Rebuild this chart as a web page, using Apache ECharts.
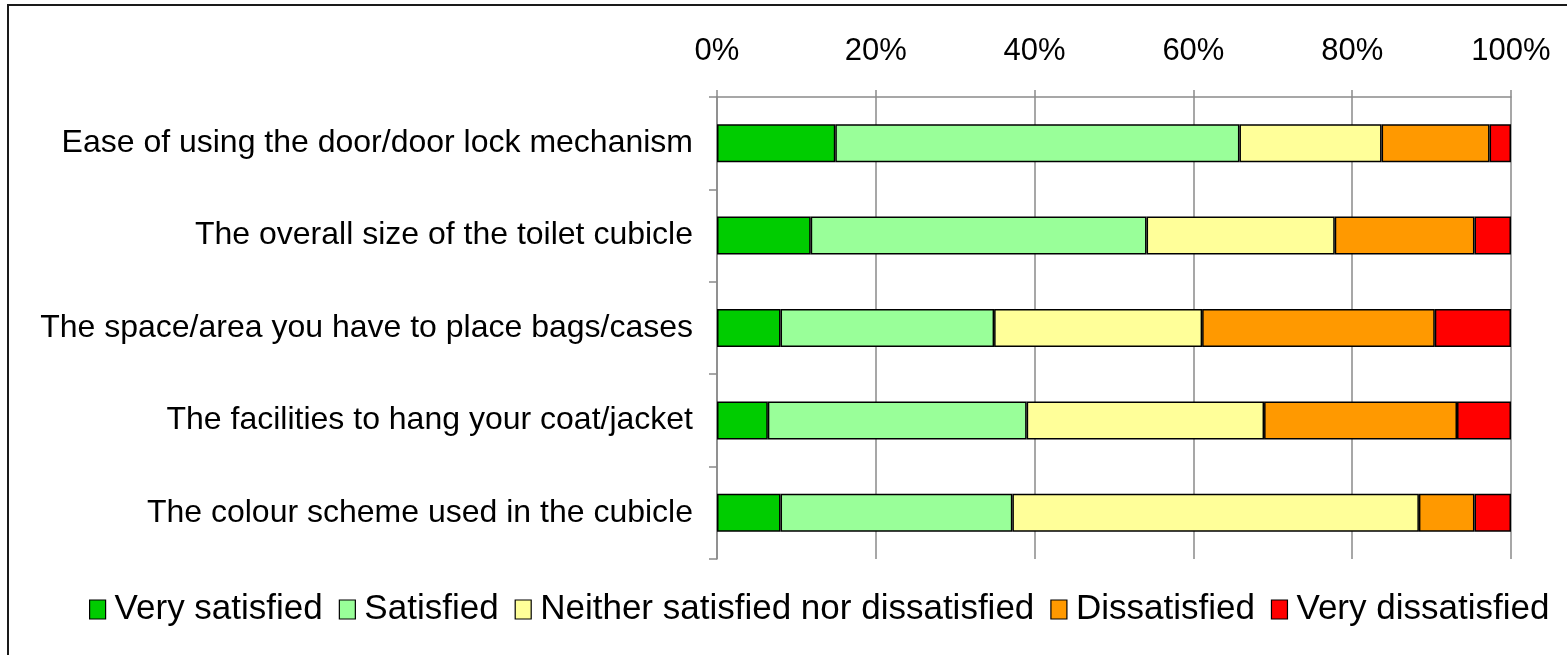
<!DOCTYPE html>
<html>
<head>
<meta charset="utf-8">
<script src="https://cdn.jsdelivr.net/npm/echarts@6/dist/echarts.min.js"></script>
<style>
  html, body { margin: 0; padding: 0; background: #ffffff; }
  #chart { width: 1567px; height: 655px; }
</style>
</head>
<body>
<div id="chart"></div>
<script>
// Survey items, listed top to bottom
const categories = [
  'Ease of using the door/door lock mechanism',
  'The overall size of the toilet cubicle',
  'The space/area you have to place bags/cases',
  'The facilities to hang your coat/jacket',
  'The colour scheme used in the cubicle'
];

// Share of responses (%) per item
const verySatisfied    = [14.9, 11.8,  8.0,  6.4,  8.0];
const satisfied        = [50.9, 42.3, 26.9, 32.6, 29.2];
const neither          = [17.9, 23.7, 26.2, 29.9, 51.2];
const dissatisfied     = [13.6, 17.6, 29.3, 24.3,  7.0];
const veryDissatisfied = [ 2.7,  4.6,  9.6,  6.8,  4.6];

const seriesNames = [
  'Very satisfied',
  'Satisfied',
  'Neither satisfied nor dissatisfied',
  'Dissatisfied',
  'Very dissatisfied'
];
const seriesData = [verySatisfied, satisfied, neither, dissatisfied, veryDissatisfied];
const seriesColors = ['#00cc00', '#99ff99', '#ffff99', '#ff9900', '#ff0000'];

const FONT = '"Liberation Sans", Arial, sans-serif';
const AXIS_GREY = '#8a8a8a';

const chart = echarts.init(document.getElementById('chart'), null, { renderer: 'canvas' });

chart.setOption({
  animation: false,
  backgroundColor: '#ffffff',
  textStyle: { fontFamily: FONT, color: '#000' },
  graphic: [{
    type: 'rect',
    silent: true,
    shape: { x: 8, y: 5, width: 1620, height: 720 },
    style: { fill: 'none', stroke: '#1a1a1a', lineWidth: 2 }
  }],
  grid: { left: 717, right: 56, top: 97, bottom: 96, containLabel: false },
  legend: {
    data: seriesNames,
    left: 84,
    top: 587,
    itemWidth: 16,
    itemHeight: 19,
    itemGap: 16,
    icon: 'rect',
    textStyle: { fontFamily: FONT, fontSize: 35, color: '#000', padding: [0, 0, 0, 4] },
    itemStyle: { borderColor: '#000', borderWidth: 1.2 }
  },
  xAxis: {
    type: 'value',
    position: 'top',
    min: 0,
    max: 100,
    interval: 20,
    axisLine: { show: true, lineStyle: { color: AXIS_GREY, width: 1.5 } },
    axisTick: { show: true, length: 7, lineStyle: { color: AXIS_GREY, width: 1.5 } },
    splitLine: { show: true, lineStyle: { color: AXIS_GREY, width: 1.5 } },
    axisLabel: {
      formatter: '{value}%',
      fontFamily: FONT,
      fontSize: 31,
      color: '#000',
      margin: 30
    }
  },
  yAxis: {
    type: 'category',
    inverse: true,
    data: categories,
    axisLine: { show: true, lineStyle: { color: AXIS_GREY, width: 1.5 } },
    axisTick: { show: true, length: 8, alignWithLabel: false, lineStyle: { color: AXIS_GREY, width: 1.5 } },
    splitLine: { show: false },
    axisLabel: {
      fontFamily: FONT,
      fontSize: 32,
      color: '#000',
      margin: 24
    }
  },
  series: seriesNames.map((name, i) => ({
    name: name,
    type: 'bar',
    stack: 'total',
    barWidth: 38,
    data: seriesData[i],
    itemStyle: { color: seriesColors[i], borderColor: '#000', borderWidth: 1.5 }
  }))
});
</script>
</body>
</html>
